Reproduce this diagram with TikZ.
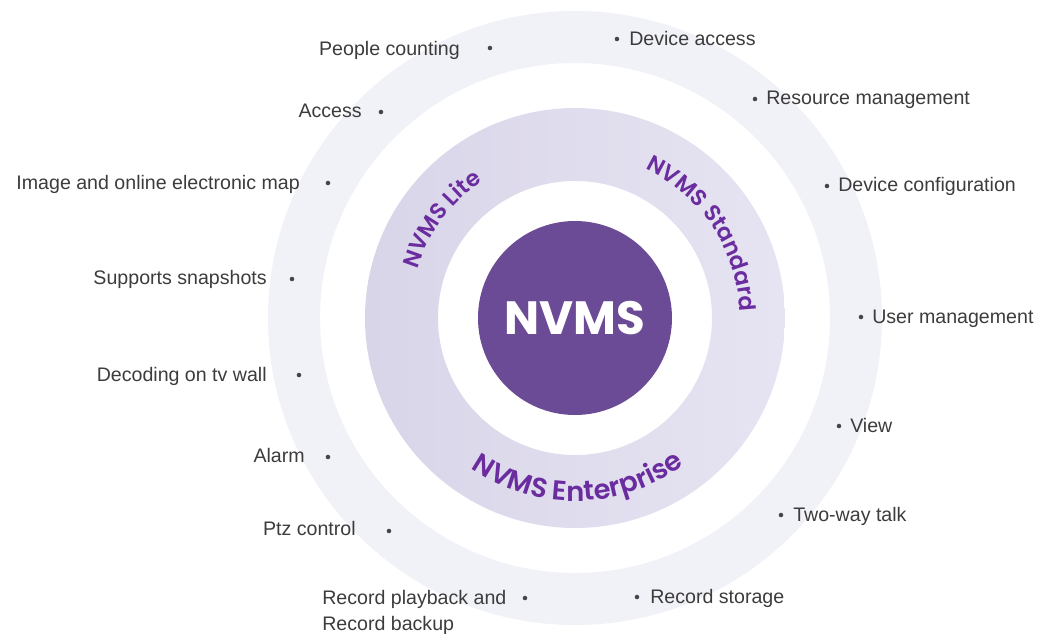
\documentclass[tikz,border=0pt]{standalone}
\usepackage{fontspec}
\setmainfont{Liberation Sans}
\newfontfamily\ringfont{Poppins SemiBold}
\newfontfamily\hubfont{Poppins Bold}
\usetikzlibrary{decorations.text}
\definecolor{outerring}{HTML}{F1F1F8}
\definecolor{midleft}{HTML}{D9D5E9}
\definecolor{midright}{HTML}{E6E4F2}
\definecolor{hubpurple}{HTML}{6B4B95}
\definecolor{ringpurple}{HTML}{6A2C9E}
\definecolor{labelgray}{HTML}{3C3C3C}
\definecolor{dotgray}{HTML}{454545}
\begin{document}
\begin{tikzpicture}[x=0.75pt, y=0.75pt,
    dot/.style={circle, fill=dotgray, inner sep=0pt, minimum size=3.4pt},
    lab/.style={font=\fontsize{14.7}{19.5}\selectfont, text=labelgray, inner sep=0pt},
    ringtext/.style n args={2}{decorate, decoration={text along path, text align=center,
        text={|\fontsize{#1}{#1}\ringfont\color{ringpurple}|#2}}}]
    \useasboundingbox (-575,-315) rectangle (465,318);

    % Rings
    \fill[outerring, even odd rule] (0,0) circle[radius=307] (0,0) circle[radius=255];
    \shade[left color=midleft, right color=midright, even odd rule]
        (0,0) circle[radius=210] (0,0) circle[radius=137];
    \node[circle, fill=hubpurple, minimum size=145.5pt, inner sep=0pt,
        font=\fontsize{35}{35}\hubfont, text=white] (hub) at (0,0) {NVMS};

    % Editions along the ring
    \path[ringtext={17}{NVMS Lite}] (190:165) arc[start angle=190, end angle=97, radius=165];
    \path[ringtext={17}{NVMS Standard}] (80:165) arc[start angle=80, end angle=-13, radius=165];
    \path[ringtext={20.5}{NVMS Enterprise}] (225:183) arc[start angle=225, end angle=317, radius=183];

    % Features on the left
    \node[dot] (pc) at (-85,270) {};
    \node[lab, anchor=mid east] (pclab) at (-115,266) {People counting};
    \node[dot] (acc) at (-194,206) {};
    \node[lab, anchor=mid east] (acclab) at (-213,204) {Access};
    \node[dot] (map) at (-247,135) {};
    \node[lab, anchor=mid east] (maplab) at (-275,132) {Image and online electronic map};
    \node[dot] (snap) at (-283,39) {};
    \node[lab, anchor=mid east] (snaplab) at (-308,37) {Supports snapshots};
    \node[dot] (tvw) at (-276,-57) {};
    \node[lab, anchor=mid east] (tvwlab) at (-308,-60) {Decoding on tv wall};
    \node[dot] (alm) at (-247,-139) {};
    \node[lab, anchor=mid east] (almlab) at (-270,-141) {Alarm};
    \node[dot] (ptz) at (-186,-213) {};
    \node[lab, anchor=mid east] (ptzlab) at (-219,-214) {Ptz control};
    \node[dot] (play) at (-50,-280) {};
    \node[lab, anchor=north west, align=left] (playlab) at (-253,-272)
        {Record playback and\\Record backup};

    % Features on the right
    \node[dot] (dacc) at (42,279) {};
    \node[lab, anchor=mid west] (dacclab) at (54,276) {Device access};
    \node[dot] (res) at (180,219) {};
    \node[lab, anchor=mid west] (reslab) at (191,217) {Resource management};
    \node[dot] (conf) at (252,132) {};
    \node[lab, anchor=mid west] (conflab) at (263,130) {Device configuration};
    \node[dot] (user) at (286,1) {};
    \node[lab, anchor=mid west] (userlab) at (297,-2) {User management};
    \node[dot] (view) at (264,-108) {};
    \node[lab, anchor=mid west] (viewlab) at (275,-111) {View};
    \node[dot] (talk) at (206,-197) {};
    \node[lab, anchor=mid west] (talklab) at (218,-200) {Two-way talk};
    \node[dot] (stor) at (62,-279) {};
    \node[lab, anchor=mid west] (storlab) at (75,-282) {Record storage};
\end{tikzpicture}
\end{document}
